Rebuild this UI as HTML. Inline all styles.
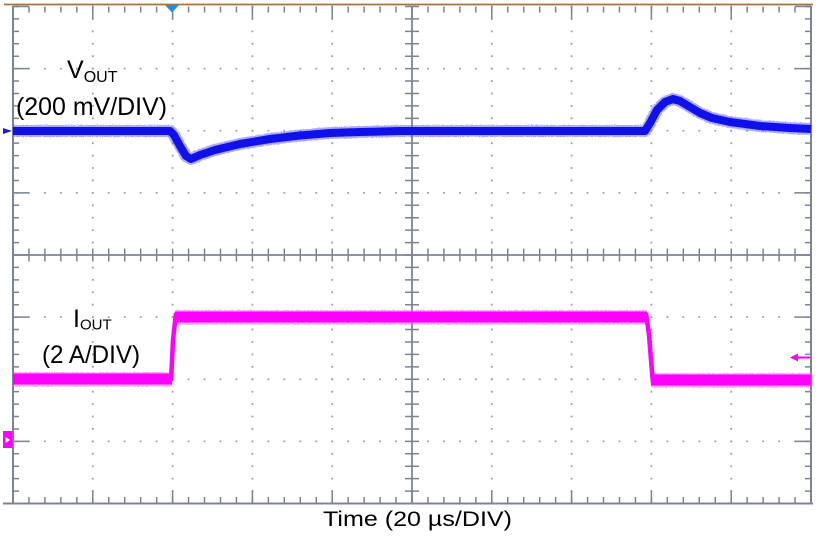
<!DOCTYPE html>
<html><head><meta charset="utf-8"><style>
html,body{margin:0;padding:0;background:#fff;}
svg{display:block;}
</style></head><body>
<svg width="820" height="539" viewBox="0 0 820 539" xmlns="http://www.w3.org/2000/svg">
<defs>
<filter id="fz" x="-5%" y="-20%" width="110%" height="140%">
  <feTurbulence type="fractalNoise" baseFrequency="0.9" numOctaves="1" seed="3" result="n"/>
  <feDisplacementMap in="SourceGraphic" in2="n" scale="3" xChannelSelector="R" yChannelSelector="G"/>
</filter>
</defs>
<rect width="820" height="539" fill="#fff"/>
<g stroke="#9aa0ae" fill="none">
  <g stroke-width="1.8" stroke-dasharray="1.8 14.16">
    <line x1="12.1" y1="68.6" x2="811" y2="68.6"/>
    <line x1="12.1" y1="130.75" x2="811" y2="130.75"/>
    <line x1="12.1" y1="192.9" x2="811" y2="192.9"/>
    <line x1="12.1" y1="317.1" x2="811" y2="317.1"/>
    <line x1="12.1" y1="379.25" x2="811" y2="379.25"/>
    <line x1="12.1" y1="441.4" x2="811" y2="441.4"/>
  </g>
  <g stroke-width="1.8" stroke-dasharray="1.8 10.625">
    <line x1="92.8" y1="5.6" x2="92.8" y2="503.5"/>
    <line x1="172.6" y1="5.6" x2="172.6" y2="503.5"/>
    <line x1="252.4" y1="5.6" x2="252.4" y2="503.5"/>
    <line x1="332.2" y1="5.6" x2="332.2" y2="503.5"/>
    <line x1="491.8" y1="5.6" x2="491.8" y2="503.5"/>
    <line x1="571.6" y1="5.6" x2="571.6" y2="503.5"/>
    <line x1="651.4" y1="5.6" x2="651.4" y2="503.5"/>
    <line x1="731.2" y1="5.6" x2="731.2" y2="503.5"/>
  </g>
</g>
<g stroke="#7c8494" fill="none">
  <line x1="13" y1="6" x2="13" y2="503.5" stroke-width="2"/>
  <line x1="811" y1="6" x2="811" y2="503.5" stroke-width="2"/>
  <line x1="3" y1="503.5" x2="813" y2="503.5" stroke-width="2"/>
  <line x1="412" y1="6" x2="412" y2="503.5" stroke-width="1.8"/>
  <line x1="13" y1="255" x2="811" y2="255" stroke-width="1.8"/>
  <line x1="12.25" y1="9.5" x2="811" y2="9.5" stroke-width="6" stroke-dasharray="1.5 14.46"/>
  <line x1="12.25" y1="12.5" x2="811" y2="12.5" stroke-width="13" stroke-dasharray="1.5 78.3"/>
  <line x1="12.25" y1="500" x2="811" y2="500" stroke-width="6" stroke-dasharray="1.5 14.46"/>
  <line x1="12.25" y1="497" x2="811" y2="497" stroke-width="13" stroke-dasharray="1.5 78.3"/>
  <line x1="16" y1="5.75" x2="16" y2="504" stroke-width="6" stroke-dasharray="1.5 10.925"/>
  <line x1="21" y1="5.75" x2="21" y2="504" stroke-width="16" stroke-dasharray="1.5 60.625"/>
  <line x1="808" y1="5.75" x2="808" y2="504" stroke-width="6" stroke-dasharray="1.5 10.925"/>
  <line x1="803" y1="5.75" x2="803" y2="504" stroke-width="16" stroke-dasharray="1.5 60.625"/>
  <line x1="412" y1="5.75" x2="412" y2="504" stroke-width="14" stroke-dasharray="1.5 10.925"/>
  <line x1="12.25" y1="255" x2="811" y2="255" stroke-width="13" stroke-dasharray="1.5 14.46"/>
</g>
<line x1="4" y1="4.5" x2="813" y2="4.5" stroke="#a8743e" stroke-width="1.8"/>
<polygon points="165,5 179,5 172,12.5" fill="#1e8fe2"/>

<!-- blue trace -->
<g fill="none" stroke-linejoin="round" stroke-linecap="butt">
<path filter="url(#fz)" d="M13,131 L170,131 L174,135 L180,146 L186,156 L191,159 L200,155 L215,150 L240,144 L270,139 L300,135.5 L330,133 L360,132 L400,131 L645,131 L650,123 L657,110 L665,102 L673,99 L680,101 L690,107 L700,113 L712,118 L730,122 L760,126 L790,128 L811,129" stroke="#5a5af8" stroke-width="12" opacity="0.5"/>
<path d="M13,131 L170,131 L174,135 L180,146 L186,156 L191,159 L200,155 L215,150 L240,144 L270,139 L300,135.5 L330,133 L360,132 L400,131 L645,131 L650,123 L657,110 L665,102 L673,99 L680,101 L690,107 L700,113 L712,118 L730,122 L760,126 L790,128 L811,129" stroke="#1010ea" stroke-width="8"/>
</g>
<polygon points="3,128 3,134 12,131" fill="#1a1ae0"/>

<!-- magenta trace -->
<g>
  <g filter="url(#fz)" opacity="0.6" fill="#f56ef5">
    <rect x="13" y="372" width="159" height="14.5"/>
    <rect x="175" y="310" width="472" height="14.5"/>
    <rect x="651" y="373" width="160" height="14.5"/>
  </g>
  <rect x="13" y="373.5" width="159" height="11" fill="#ff00ff"/>
  <rect x="175" y="311.5" width="472" height="11" fill="#ff00ff"/>
  <rect x="651" y="374.5" width="160" height="11" fill="#ff00ff"/>
  <path d="M171,381 L173,340 L176,313" stroke="#ff00ff" stroke-width="4.5" fill="none"/>
  <path d="M646,313 L649,335 L651,360 L653,383" stroke="#ff00ff" stroke-width="4.5" fill="none"/>
</g>
<rect x="3" y="431" width="9.5" height="17" fill="#ff00ff"/>
<polygon points="5.5,437 5.5,443 10,440" fill="#fff"/>
<line x1="797" y1="357.5" x2="810" y2="357.5" stroke="#ff00ff" stroke-width="2"/>
<polygon points="790,357.5 798,353.5 798,361.5" fill="#ff00ff"/>

<g font-family="'Liberation Sans', Arial, sans-serif" fill="#000">
  <text x="67" y="78" font-size="25">V<tspan font-size="16" dy="4">OUT</tspan></text>
  <text x="16" y="115" font-size="25" textLength="151" lengthAdjust="spacingAndGlyphs">(200 mV/DIV)</text>
  <text x="73" y="327" font-size="25">I<tspan font-size="15" dy="2.5">OUT</tspan></text>
  <text x="42" y="363" font-size="25" textLength="98" lengthAdjust="spacingAndGlyphs">(2 A/DIV)</text>
  <text x="323" y="526" font-size="21.5" textLength="189" lengthAdjust="spacingAndGlyphs">Time (20 µs/DIV)</text>
</g>
</svg>
</body></html>
